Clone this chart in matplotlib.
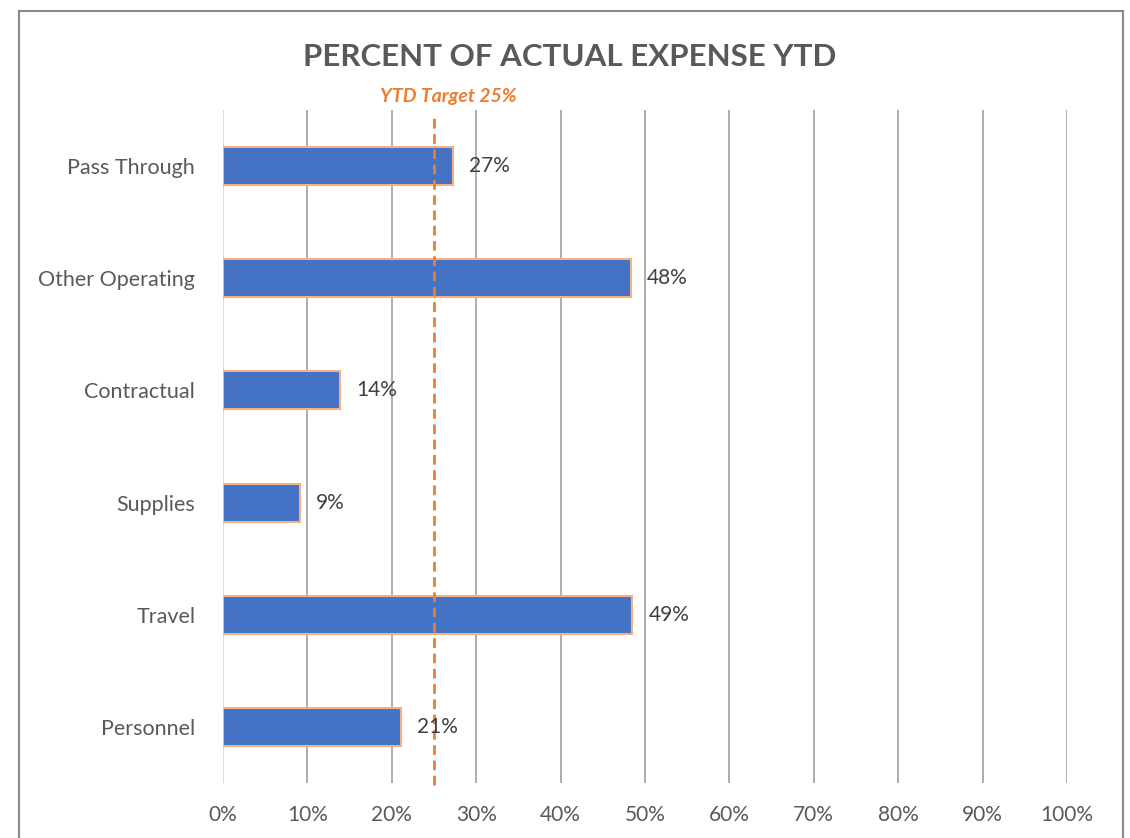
import matplotlib.pyplot as plt
from matplotlib.patches import Rectangle

categories = ['Personnel', 'Travel', 'Supplies', 'Contractual', 'Other Operating', 'Pass Through']
values = [21.1, 48.5, 9.1, 13.9, 48.3, 27.2]
labels = ['21%', '49%', '9%', '14%', '48%', '27%']
target = 25
xticks = list(range(0, 101, 10))

plt.rcParams['font.family'] = ['Lato', 'DejaVu Sans']

W, H = 1130, 838
fig = plt.figure(figsize=(W / 100, H / 100), dpi=100)
ax = fig.add_axes([223 / W, 1 - 783 / H, (1067 - 223) / W, (783 - 110) / H])

# outer chart frame
fig.patches.append(Rectangle((19 / W, -0.05), (1123 - 19) / W, 1.05 - 11 / H,
                             transform=fig.transFigure, fill=False,
                             edgecolor='#898989', linewidth=1.5))

ypos = range(len(categories))
ax.barh(ypos, values, height=0.34, color='#4472c4', edgecolor='#f4b183',
        linewidth=1.5, zorder=3)
for y, v, lab in zip(ypos, values, labels):
    ax.text(v + 1.9, y, lab, va='center', ha='left', fontsize=15,
            color='#404040', zorder=5)

ax.axvline(target, ymin=-0.003, ymax=0.988, color='#ed7d31', linestyle=(0, (3.5, 2)),
           linewidth=2, zorder=4, clip_on=False)
ax.text(target + 1.7, 5.62, 'YTD Target 25%', ha='center', va='center',
        fontsize=14, fontweight='bold', style='italic', color='#ed7d31')

ax.set_xlim(0, 100)
ax.set_ylim(-0.5, 5.5)
ax.set_xticks(xticks)
ax.set_xticklabels([f'{t}%' for t in xticks])
ax.set_yticks(list(ypos))
ax.set_yticklabels(categories)
ax.tick_params(axis='both', length=0, labelsize=15.5, labelcolor='#595959')
ax.tick_params(axis='x', labelsize=15, pad=16)
ax.tick_params(axis='y', pad=20)
for s in ax.spines.values():
    s.set_visible(False)
ax.grid(axis='x', color='#a6a6a6', linewidth=1.3, zorder=0)
ax.get_xgridlines()[0].set_color('#d9d9d9')

fig.text(570 / W, 1 - 57 / H, 'PERCENT OF ACTUAL EXPENSE YTD', ha='center', va='center',
         fontsize=22.5, fontweight='bold', color='#595959')

fig.savefig('out.png', dpi=100)
